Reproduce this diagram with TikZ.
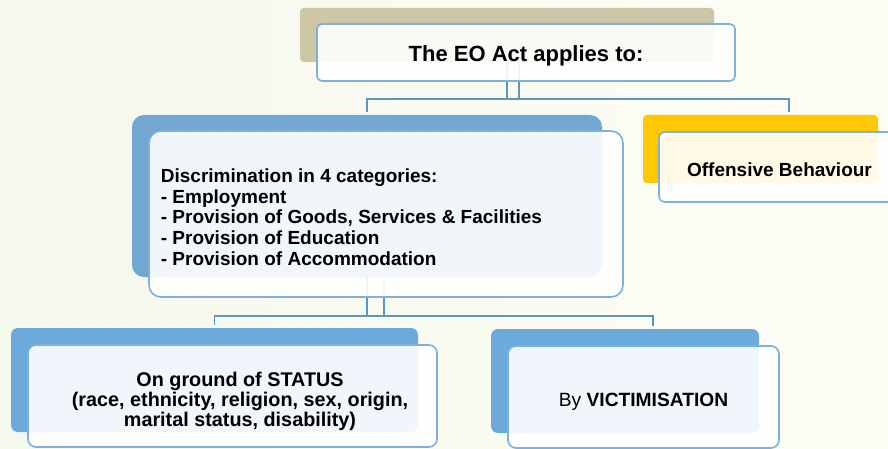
\documentclass[tikz,border=0pt]{standalone}
\usepackage{fontspec}
\setmainfont{Liberation Sans}
\usepackage{xcolor}
\usetikzlibrary{positioning}

\definecolor{bgcream}{HTML}{FDFDF5}
\definecolor{bgleft}{HTML}{F5F8EC}
\definecolor{tan}{HTML}{CEC7A6}
\definecolor{midblue}{HTML}{71A7D0}
\definecolor{lowblue}{HTML}{6BAADB}
\definecolor{gold}{HTML}{FFC800}
\definecolor{boxline}{HTML}{7DB1DC}
\definecolor{linkblue}{HTML}{5E95C0}

\begin{document}
\begin{tikzpicture}[x=1pt,y=-1pt,
    back/.style={inner sep=0pt, rounded corners=4pt},
    front/.style={draw=boxline, line width=1.6pt, fill=white, fill opacity=0.9,
      inner sep=0pt, rounded corners=5pt},
    link/.style={draw=linkblue, line width=1.8pt},
    big/.style={font=\bfseries\fontsize{22}{24}\selectfont},
    txt/.style={font=\bfseries\fontsize{19}{20.7}\selectfont}]
    \clip (0,0) rectangle (888,449);
    \shade[left color=bgleft, right color=bgcream] (0,0) rectangle (888,449);

    % back plates
    \node[back, fill=tan, minimum width=414pt, minimum height=54pt] (act-back) at (507,35) {};
    \node[back, fill=midblue, rounded corners=12pt, minimum width=470pt, minimum height=162pt] (disc-back) at (367,196) {};
    \node[back, fill=gold, minimum width=235pt, minimum height=68pt] (off-back) at (760.5,149) {};
    \node[back, fill=lowblue, rounded corners=7pt, minimum width=407pt, minimum height=104pt] (status-back) at (214.5,380) {};
    \node[back, fill=lowblue, rounded corners=7pt, minimum width=268pt, minimum height=104pt] (vict-back) at (625,381) {};

    % connectors
    \coordinate (bar-top-r) at (789,99);
    \coordinate (bar-mid-r) at (653,316);
    \draw[link] (act-back.south) -- ++(0,37);
    \draw[link] ([xshift=12pt]act-back.south) -- ++(0,37);
    \draw[link] (disc-back.north) ++(0,-3) |- (bar-top-r) -- ++(0,13);
    \draw[link] (disc-back.south) -- ++(0,39);
    \draw[link] ([xshift=17pt]disc-back.south) -- ++(0,39);
    \draw[link] (status-back.north) ++(0,-3) |- (bar-mid-r) -- ++(0,10);

    % front boxes
    \node[front, minimum width=418pt, minimum height=57pt] (act) at (526,52.5) {};
    \node[front, rounded corners=12pt, minimum width=474pt, minimum height=166pt] (disc) at (386,214) {};
    \node[front, rounded corners=6pt, minimum width=241pt, minimum height=70pt] (off) at (779.5,167) {};
    \node[front, rounded corners=8pt, minimum width=409pt, minimum height=102pt] (status) at (232.5,396) {};
    \node[front, rounded corners=8pt, minimum width=271pt, minimum height=102pt] (vict) at (643.5,397) {};

    % texts
    \node[big] (act-text) at ([yshift=-3.5pt]act.center) {The EO Act applies to:};
    \node[txt, anchor=west, align=left, inner sep=0pt] (disc-text) at ([xshift=12.5pt,yshift=-3pt]disc.west)
      {Discrimination in 4 categories:\\- Employment\\- Provision of Goods, Services \& Facilities\\- Provision of Education\\- Provision of Accommodation};
    \node[txt] (off-text) at ([yshift=-3pt]off.center) {Offensive Behaviour};
    \node[align=center, font=\bfseries\fontsize{19.8}{20}\selectfont] (status-text) at ([xshift=7.5pt,yshift=-5pt]status.center)
      {On ground of STATUS\\(race, ethnicity, religion, sex, origin,\\marital status, disability)};
    \node[font=\fontsize{19.2}{20}\selectfont] (vict-text) at ([yshift=-5pt]vict.center) {By \textbf{VICTIMISATION}};
\end{tikzpicture}
\end{document}
